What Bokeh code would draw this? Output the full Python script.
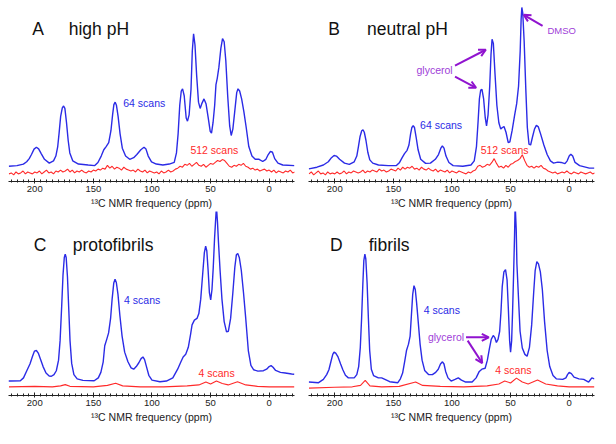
from bokeh.plotting import figure
from bokeh.layouts import column, row
from bokeh.models import Range1d, Label, Arrow, OpenHead, FixedTicker
from bokeh.embed import file_html
from bokeh.resources import INLINE

# ---------------- data: chemical shift (ppm) and intensity (arbitrary units) ----------------
A_blue_ppm = [222.1, 215.2, 209.7, 206.9, 204.7, 202.8, 200.6, 198.6, 196.7, 194.5,
              191.7, 187.6, 184.0, 182.0, 180.4, 179.3, 177.9, 176.5, 175.4, 174.3,
              172.9, 171.5, 170.1, 167.6, 162.7, 154.4, 148.8, 146.1, 143.3, 141.1,
              139.1, 136.9, 135.0, 133.6, 132.5, 131.4, 130.3, 128.9, 127.2, 125.3,
              122.5, 119.0, 115.6, 112.9, 109.5, 106.8, 105.1, 103.2, 100.4, 96.3,
              90.7, 85.2, 81.0, 79.1, 77.7, 76.3, 75.0, 73.9, 72.5, 70.8,
              69.7, 68.3, 66.7, 65.6, 64.5, 63.3, 61.9, 60.3, 58.9, 57.5,
              55.6, 53.9, 52.0, 50.3, 49.2, 47.9, 46.5, 45.4, 44.3, 42.9,
              41.2, 39.8, 38.4, 37.0, 35.4, 33.7, 32.4, 31.0, 29.4, 27.7,
              26.6, 25.2, 23.5, 21.6, 19.6, 17.4, 14.7, 11.9, 8.6, 5.5,
              2.8, 0.8, -1.1, -2.8, -4.7, -7.5, -11.6, -21.5]
A_blue_int = [16, 16.7, 18.3, 20.7, 24, 28.3, 34, 36, 34.3, 29.3,
              23.3, 19.3, 21.7, 26.7, 36.7, 50, 68.3, 77.3, 79.3, 76.7,
              61.7, 43.3, 30, 21.7, 18.3, 17.3, 16.7, 20, 26.7, 33.3,
              36.7, 40.7, 53.3, 70, 80.7, 83.3, 80, 68.3, 50, 35,
              26.7, 23.3, 25, 28.3, 33.3, 36, 34, 26.7, 20.7, 18.3,
              17.3, 18.3, 20, 30, 50, 80, 95, 97.3, 90, 66.7,
              63.3, 70, 96.7, 136.7, 155, 143.3, 111.7, 83.3, 76.7, 81.7,
              86.7, 81.7, 66.7, 52.7, 50.7, 61.7, 80, 101.7, 108.3, 120,
              140, 150, 146.7, 126.7, 90, 58.3, 48.3, 55, 73.3, 93.3,
              97.3, 95, 86.7, 73.3, 56.7, 36.7, 26.7, 23.3, 23.3, 21,
              23.3, 28.3, 31.7, 30.7, 24, 19.3, 17.3, 16.7]

B_blue_ppm = [222.1, 215.2, 209.7, 205.5, 202.8, 200.6, 198.6, 195.9, 191.7, 187.6,
              183.4, 181.2, 179.8, 178.4, 177.0, 175.9, 174.8, 173.4, 171.8, 170.1,
              167.6, 162.7, 154.4, 147.4, 144.7, 142.5, 140.5, 138.3, 136.7, 135.3,
              134.2, 133.1, 132.0, 130.6, 128.9, 126.7, 122.5, 118.4, 114.2, 111.5,
              109.5, 108.2, 106.8, 105.1, 102.6, 99.0, 90.7, 83.8, 81.0, 79.1,
              77.7, 76.6, 75.5, 74.4, 73.0, 71.6, 70.5, 69.2, 67.8, 66.7,
              65.8, 64.7, 63.3, 61.7, 60.0, 58.4, 57.0, 55.6, 53.9, 52.0,
              50.6, 48.7, 46.5, 44.8, 43.2, 41.8, 41.0, 40.4, 39.6, 38.4,
              37.0, 35.7, 34.3, 32.9, 31.3, 29.6, 28.0, 26.3, 24.4, 21.6,
              18.8, 16.0, 13.3, 9.7, 6.9, 3.6, 1.7, 0.0, -1.4, -3.0,
              -5.0, -8.9, -17.2, -21.5]
B_blue_int = [13.3, 15, 17.3, 20.7, 25, 27.3, 26.7, 23.3, 19.3, 18,
              20.7, 26.7, 36.7, 47.3, 53.3, 54.3, 51.7, 43.3, 30.7, 22.7,
              19.3, 17.3, 16.7, 16.7, 20, 25, 29.3, 32.7, 38.3, 50,
              56.7, 58.7, 56.7, 46.7, 33.3, 23.3, 19, 19.3, 23.3, 28.3,
              35, 37.3, 35, 26.7, 20, 16.7, 16, 17.3, 21.7, 36.7,
              63.3, 86.7, 96, 96.7, 86.7, 66.7, 58.3, 70, 100, 133.3,
              149.3, 145, 113.3, 80, 61.7, 55, 56.7, 57.7, 51.7, 40.7,
              41.7, 53.3, 70, 81.7, 100, 136.7, 170, 182.7, 176.7, 146.7,
              96.7, 56.7, 39.3, 38.3, 46.7, 55, 59, 57.3, 50, 38.3,
              28.3, 21.7, 19.3, 20.3, 20, 18.7, 21.7, 26.7, 28.7, 26.7,
              20, 16.7, 14, 14]

C_blue_ppm = [222.4, 220.5, 212.3, 209.6, 206.8, 204.1, 201.9, 200.3, 198.6, 197.0, 195.1,
              192.9, 190.4, 187.7, 185.8, 183.6, 181.6, 179.7, 178.4, 177.0, 175.9,
              174.8, 174.0, 173.2, 172.1, 171.0, 169.9, 168.5, 166.6, 163.8, 158.9,
              149.3, 145.8, 143.6, 141.6, 140.3, 138.6, 137.0, 135.3, 134.0, 132.6,
              131.5, 130.4, 129.0, 127.4, 125.5, 123.3, 120.5, 117.8, 115.6, 113.4,
              111.2, 109.3, 107.7, 106.3, 104.7, 102.7, 100.0, 93.2, 87.7, 82.2,
              78.1, 75.3, 73.4, 71.2, 69.0, 67.1, 65.8, 63.8, 61.6, 60.0,
              58.4, 56.7, 55.3, 54.2, 53.2, 52.1, 51.0, 49.9, 48.8, 47.7,
              46.6, 45.8, 45.0, 44.1, 43.3, 41.9, 40.3, 38.4, 36.4, 34.8,
              32.9, 31.0, 29.3, 28.0, 26.8, 25.5, 23.8, 21.9, 20.0, 17.8,
              15.6, 13.2, 9.6, 4.9, 2.2, 0.0, -1.6, -3.3, -5.5, -9.6,
              -13.7, -19.2, -21.5]
C_blue_int = [15, 15, 15.3, 18.3, 25.7, 32.7, 40.7, 46, 46.7, 44, 37.7,
              30, 23.3, 20.3, 20, 21.7, 25.7, 36.7, 56.7, 93.3, 125,
              143.3, 146.7, 143.3, 123.3, 90, 56.7, 33.3, 21.7, 17.3, 15.7,
              15.3, 18.3, 24, 35, 51.7, 58.3, 65, 80, 100, 116.7,
              120.7, 117.3, 105, 83.3, 61.7, 45, 35, 28.7, 27.3, 30,
              34, 38.3, 40, 37.3, 30, 21, 16, 14.3, 15, 18.3,
              27.3, 35, 40, 42.7, 50, 63.3, 73.3, 78.3, 80, 85,
              100, 126.7, 148.3, 155, 150, 130, 106.7, 99.3, 110, 133.3,
              163.3, 180, 196, 180, 160, 130, 100, 76.7, 66, 66.7,
              80, 106.7, 133.3, 146, 147.3, 143.3, 130, 106.7, 80, 46.7,
              31.3, 26.7, 25.3, 25.7, 27.3, 30, 31, 29.3, 26, 24,
              23.3, 22.3, 22]

D_blue_ppm = [222.1, 213.8, 209.7, 206.9, 205.0, 203.3, 201.7, 200.6, 199.2, 197.2,
              195.0, 193.1, 190.9, 188.4, 183.4, 181.2, 179.6, 178.2, 177.1, 176.0,
              175.2, 174.3, 173.5, 172.4, 171.3, 170.2, 168.8, 166.9, 162.8, 160.0,
              157.2, 153.1, 146.2, 144.0, 142.1, 140.4, 138.8, 137.1, 135.7, 134.6,
              133.5, 132.4, 131.3, 130.2, 128.8, 127.2, 125.5, 123.3, 120.0, 116.7,
              113.9, 111.7, 109.8, 108.1, 106.8, 105.4, 103.4, 100.7, 97.4, 94.6,
              91.9, 88.3, 82.8, 79.4, 76.7, 74.5, 71.7, 69.8, 68.1, 66.5,
              64.8, 63.4, 62.1, 60.7, 59.3, 58.2, 57.1, 55.7, 54.3, 53.0,
              51.9, 50.8, 50.0, 49.1, 48.3, 47.4, 46.6, 46.1, 45.2, 44.6,
              43.2, 41.9, 40.0, 37.8, 35.9, 33.9, 32.0, 30.3, 29.0, 27.6,
              26.2, 24.6, 22.9, 21.0, 18.8, 16.6, 13.8, 11.0, 5.5, 2.8,
              1.4, 0.0, -1.9, -4.1, -8.3, -12.4, -16.6, -19.3, -21.5]
D_blue_int = [14, 13.3, 16.7, 21.7, 26.7, 35, 42.7, 45, 44, 40,
              32.7, 26.7, 21, 18.3, 18.3, 21.7, 30, 50, 80, 116.7,
              140, 146.7, 141.7, 116.7, 80, 46.7, 27.3, 20.7, 18.3, 18.3,
              16.7, 14.3, 13.3, 17.3, 23.3, 35, 46.7, 53.3, 61.7, 83.3,
              105, 114, 110, 96.7, 76.7, 53.3, 36.7, 26, 21.7, 21.7,
              24, 27.3, 32.7, 35, 32.7, 25, 18.3, 15, 16.7, 18.3,
              16, 14, 14, 18.3, 25, 27.3, 28.3, 36.7, 48.3, 58.3,
              62.3, 60, 55, 58.3, 66.7, 86.7, 113.3, 128.3, 130.7, 120,
              90, 56.7, 45, 56.7, 86.7, 126.7, 166.7, 199, 173.3, 136.7,
              100, 66.7, 49.3, 42.7, 40.7, 50, 73.3, 106.7, 130, 139,
              136.7, 128.3, 110, 76.7, 46.7, 30, 20.7, 17.3, 16.7, 18.3,
              21.7, 24, 22.7, 19, 17.3, 16.7, 14, 18.3, 17.3]

# noisy 512-scan spectra, read every 2 ppm from 222 to -22
noisy_ppm = list(range(222, -23, -2))
A_red_int = [8, 9, 7, 10, 8, 9, 11, 8, 10, 9, 8, 10,
             9, 11, 8, 10, 12, 9, 10, 8, 11, 10,
             12, 10, 11, 13, 10, 12, 9, 11, 10, 12,
             10, 9, 11, 10, 12, 11, 13, 12, 14, 13,
             17, 14, 16, 13, 15, 14, 12, 15, 13, 12,
             11, 12, 10, 13, 11, 10, 12, 9, 11, 10,
             9, 10, 8, 11, 9, 10, 12, 10, 11, 13,
             14, 16, 15, 18, 17, 19, 16, 18, 20, 17,
             16, 18, 15, 17, 19, 18, 20, 22, 21, 23,
             22, 19, 16, 15, 17, 16, 18, 17, 19, 16,
             15, 13, 14, 12, 13, 11, 12, 13, 11, 12,
             10, 12, 9, 11, 10, 9, 11, 10, 12, 9, 10]
B_red_int = [8, 10, 7, 9, 11, 8, 9, 7, 10, 8, 9, 8,
             10, 8, 9, 11, 8, 10, 9, 11, 10, 9,
             10, 12, 9, 11, 10, 12, 11, 10, 13, 11,
             12, 10, 11, 13, 12, 11, 14, 12, 15, 13,
             15, 14, 16, 13, 14, 12, 15, 13, 12, 14,
             12, 11, 13, 10, 12, 11, 10, 12, 9, 11,
             10, 9, 11, 10, 9, 8, 10, 9, 11, 12,
             16, 17, 15, 16, 18, 17, 20, 24, 19, 15,
             16, 14, 17, 15, 18, 19, 21, 22, 24, 28,
             22, 17, 15, 16, 14, 16, 15, 17, 14, 13,
             11, 10, 9, 10, 8, 9, 10, 9, 11, 9,
             8, 10, 9, 8, 10, 9, 8, 9, 10, 8, 9]

C_red_ppm = [222, 200, 185, 178, 174, 170, 150, 138, 131, 125, 110, 90, 70, 60, 54, 50, 45, 40, 35, 27, 20, 10, 0, -21.5]
C_red_int = [9, 9.5, 9, 10, 11.3, 9.5, 9, 10.5, 12.7, 10, 9, 9, 10, 11, 14, 12, 15, 12.5, 11, 14.3, 11, 9.5, 9, 9]
D_red_ppm = [222, 200, 185, 178, 174, 170, 160, 145, 131, 125, 110, 90, 70, 60, 55, 50, 45, 40, 35, 27, 20, 10, 0, -21.5]
D_red_int = [7.7, 8.5, 9, 10.5, 15.7, 10, 9, 9.5, 14, 10.5, 9.5, 9, 10, 12, 15, 13, 18, 14, 12, 16, 12, 10, 9, 9]

major_ticks = [200, 150, 100, 50, 0]
minor_ticks = list(range(-20, 225, 5))

BLUE = "#2B2BE6"
RED = "#FF2A2A"
PURPLE = "#9013CF"
PURPLE_TXT = "#A040D8"
FONT = "Liberation Sans"


def panel(h, bottom, ytop, letter, title, ppm_l, ppm_t, yt):
    p = figure(width=300, height=h, x_range=Range1d(222.4, -21.6), y_range=Range1d(0, ytop),
               output_backend="svg", toolbar_location=None, y_axis_location=None,
               min_border_left=8, min_border_right=6, min_border_top=0, min_border_bottom=bottom)
    p.grid.visible = False
    p.outline_line_color = None
    ax = p.xaxis[0]
    ax.ticker = FixedTicker(ticks=major_ticks, minor_ticks=minor_ticks)
    ax.axis_line_color = "#222222"
    ax.major_tick_line_color = "#222222"
    ax.minor_tick_line_color = "#222222"
    ax.major_tick_in = 3
    ax.major_tick_out = 2
    ax.minor_tick_in = 2
    ax.minor_tick_out = 1
    ax.major_label_text_font = FONT
    ax.major_label_text_font_size = "9.5px"
    ax.major_label_text_color = "#222222"
    ax.major_label_standoff = 2
    ax.axis_label = "¹³C NMR frequency (ppm)"
    ax.axis_label_text_font = FONT
    ax.axis_label_text_font_size = "10.5px"
    ax.axis_label_text_font_style = "normal"
    ax.axis_label_text_color = "#222222"
    ax.axis_label_standoff = 2
    p.add_layout(Label(x=ppm_l, y=yt, text=letter, text_font=FONT, text_font_size="17.5px",
                       text_color="#111111", text_baseline="alphabetic"))
    p.add_layout(Label(x=ppm_t, y=yt, text=title, text_font=FONT, text_font_size="17.5px",
                       text_color="#111111", text_baseline="alphabetic"))
    return p


def lab(p, x, y, text, color, size="10.5px"):
    p.add_layout(Label(x=x, y=y, text=text, text_font=FONT, text_font_size=size,
                       text_color=color, text_baseline="middle"))


def arrow(p, x0, y0, x1, y1):
    p.add_layout(Arrow(end=OpenHead(size=7, line_color=PURPLE, line_width=2),
                       x_start=x0, y_start=y0, x_end=x1, y_end=y1,
                       line_color=PURPLE, line_width=2))


pA = panel(211, 28, 190, "A", "high pH", 202.2, 171, 160)
pA.line(noisy_ppm, A_red_int, line_color=RED, line_width=1.1)
pA.line(A_blue_ppm, A_blue_int, line_color=BLUE, line_width=1.4)
lab(pA, 124.5, 82, "64 scans", BLUE)
lab(pA, 67.2, 33.3, "512 scans", RED)

pB = panel(211, 28, 190, "B", "neutral pH", 205.6, 172.4, 160)
pB.line(noisy_ppm, B_red_int, line_color=RED, line_width=1.1)
pB.line(B_blue_ppm, B_blue_int, line_color=BLUE, line_width=1.4)
lab(pB, 127.2, 59, "64 scans", BLUE)
lab(pB, 75.5, 33, "512 scans", RED)
lab(pB, 130.3, 117, "glycerol", PURPLE_TXT)
lab(pB, 18.5, 159, "DMSO", PURPLE_TXT, "9.5px")
arrow(pB, 97.4, 121.7, 71.1, 138.3)
arrow(pB, 97.4, 110, 79.4, 98.3)
arrow(pB, 22.7, 163.3, 38.8, 175)

pC = panel(217, 33, 191, "C", "protofibrils", 200.8, 167.6, 156.7)
pC.line(C_red_ppm, C_red_int, line_color=RED, line_width=1.1)
pC.line(C_blue_ppm, C_blue_int, line_color=BLUE, line_width=1.4)
lab(pC, 123.8, 99.3, "4 scans", BLUE)
lab(pC, 60.3, 23.3, "4 scans", RED)

pD = panel(217, 33, 191, "D", "fibrils", 204.1, 171, 156.7)
pD.line(D_red_ppm, D_red_int, line_color=RED, line_width=1.1)
pD.line(D_blue_ppm, D_blue_int, line_color=BLUE, line_width=1.4)
lab(pD, 124.1, 88.3, "4 scans", BLUE)
lab(pD, 63, 26, "4 scans", RED)
lab(pD, 120.5, 60.4, "glycerol", PURPLE_TXT)
arrow(pD, 88, 60.4, 68.6, 60.4)
arrow(pD, 86.6, 57, 74.2, 33.7)

layout = column(row(pA, pB), row(pC, pD))
open("out.html", "w").write(file_html(layout, INLINE))
